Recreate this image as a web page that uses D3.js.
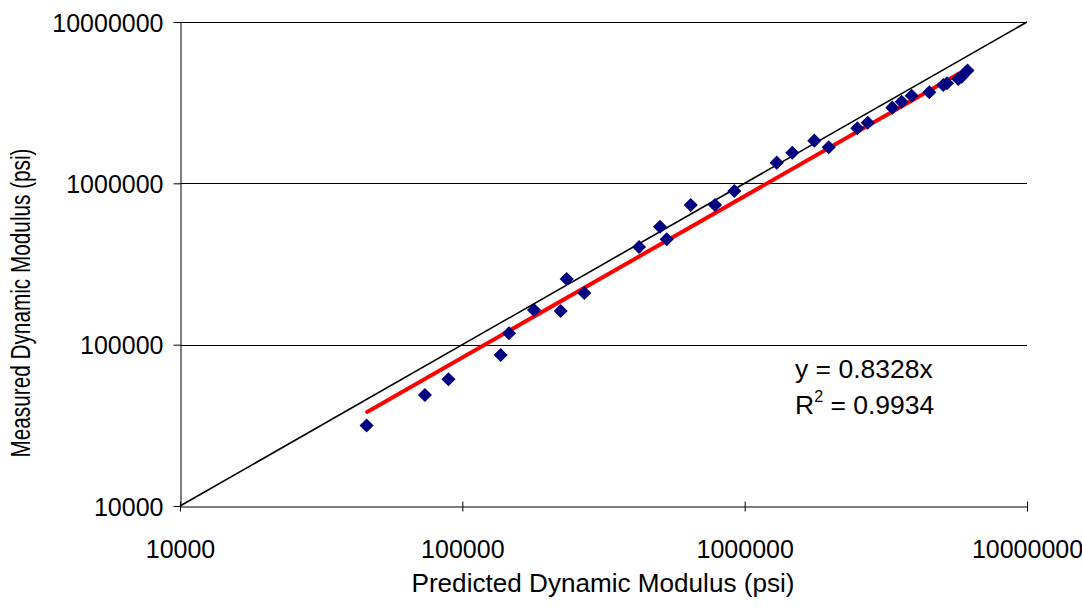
<!DOCTYPE html>
<html>
<head>
<meta charset="utf-8">
<script src="https://cdn.jsdelivr.net/npm/d3@7"></script>
<style>
  body { margin: 0; background: #fff; }
  svg text { font-family: "Liberation Sans", Arial, sans-serif; fill: #000; }
</style>
</head>
<body>
<div id="chart"></div>
<script>
// measured vs predicted dynamic modulus (psi)
var predicted = [45800, 73700, 89300, 136700, 146300, 179400, 223000, 234200, 270400,
  422600, 501300, 529600, 644100, 785100, 919000, 1298800, 1474500, 1764700, 1985200,
  2506000, 2728000, 3334000, 3599000, 3905000, 4508000, 5052000, 5207000, 5709000,
  5869000, 6154000];
var measured = [31550, 48750, 61000, 86300, 117650, 164000, 161700, 255300, 209100,
  403000, 538500, 449900, 734100, 734100, 896300, 1342800, 1548400, 1837800, 1672800,
  2194000, 2376000, 2944000, 3206000, 3493000, 3667000, 4071000, 4170000, 4432000,
  4581000, 5005000];

// line of equality and the trend line (ends)
var equalX = [10000, 10000000];
var equalY = [10000, 10000000];
var trendX = [46000, 6130000];
var trendY = [38300, 5105000];

var tickValues = [10000, 100000, 1000000, 10000000];
var eqLines = ["y = 0.8328x", "R", " = 0.9934"];

var width = 1082, height = 608;
var margin = {top: 22, right: 55, bottom: 102, left: 180};

var svg = d3.select("#chart").append("svg")
  .attr("width", width).attr("height", height);

var x = d3.scaleLog().domain([10000, 10000000]).range([margin.left, width - margin.right]);
var y = d3.scaleLog().domain([10000, 10000000]).range([height - margin.bottom, margin.top]);

// horizontal gridlines
svg.append("g").selectAll("line")
  .data(tickValues.slice(1))
  .enter().append("line")
  .attr("x1", x.range()[0]).attr("x2", x.range()[1])
  .attr("y1", function (d) { return Math.round(y(d)) + 0.5; })
  .attr("y2", function (d) { return Math.round(y(d)) + 0.5; })
  .attr("stroke", "#000").attr("stroke-width", 1);

// x axis
var xAxis = svg.append("g")
  .attr("transform", "translate(0," + (Math.round(y(10000)) + 0.5) + ")")
  .call(d3.axisBottom(x).tickValues(tickValues).tickFormat(d3.format("d"))
    .tickSizeInner(5).tickSizeOuter(0));
xAxis.select(".domain").attr("stroke", "#000");
xAxis.selectAll(".tick line").attr("y1", -5).attr("y2", 5).attr("stroke", "#000");
xAxis.selectAll("text").attr("font-size", 25).attr("dy", 0).attr("y", 51);

// y axis
var yAxis = svg.append("g")
  .attr("transform", "translate(" + (Math.round(x(10000)) + 0.5) + ",0)")
  .call(d3.axisLeft(y).tickValues(tickValues).tickFormat(d3.format("d"))
    .tickSizeInner(7).tickSizeOuter(0).tickPadding(10));
yAxis.select(".domain").attr("stroke", "#000");
yAxis.selectAll(".tick line").attr("stroke", "#000");
yAxis.selectAll("text").attr("font-size", 25).attr("dy", "0.36em");

var line = d3.line()
  .x(function (d) { return x(d[0]); })
  .y(function (d) { return y(d[1]); });

// 1:1 line
svg.append("path")
  .datum(d3.zip(equalX, equalY))
  .attr("d", line)
  .attr("fill", "none").attr("stroke", "#000").attr("stroke-width", 1.6);

// trend line
svg.append("path")
  .datum(d3.zip(trendX, trendY))
  .attr("d", line)
  .attr("fill", "none").attr("stroke", "#ff0000").attr("stroke-width", 4)
  .attr("stroke-linecap", "round");

// diamonds
svg.append("g").selectAll("path")
  .data(d3.zip(predicted, measured))
  .enter().append("path")
  .attr("d", d3.symbol().type(d3.symbolSquare).size(100))
  .attr("transform", function (d) {
    return "translate(" + x(d[0]) + "," + y(d[1]) + ") rotate(45)";
  })
  .attr("fill", "#000080");

// equation text
svg.append("text")
  .attr("x", 795).attr("y", 378)
  .attr("font-size", 26.5)
  .text(eqLines[0]);
var r2 = svg.append("text")
  .attr("x", 795).attr("y", 414)
  .attr("font-size", 26.5);
r2.append("tspan").text(eqLines[1]);
r2.append("tspan").attr("font-size", 16).attr("dy", -12).text("2");
r2.append("tspan").attr("dy", 12).text(eqLines[2]);

// axis titles
svg.append("text")
  .attr("x", 603).attr("y", 592)
  .attr("text-anchor", "middle")
  .attr("font-size", 26)
  .attr("textLength", 383).attr("lengthAdjust", "spacingAndGlyphs")
  .text("Predicted Dynamic Modulus (psi)");

svg.append("text")
  .attr("transform", "translate(30,303) rotate(-90)")
  .attr("text-anchor", "middle")
  .attr("font-size", 27)
  .attr("textLength", 309).attr("lengthAdjust", "spacingAndGlyphs")
  .text("Measured Dynamic Modulus (psi)");
</script>
</body>
</html>
